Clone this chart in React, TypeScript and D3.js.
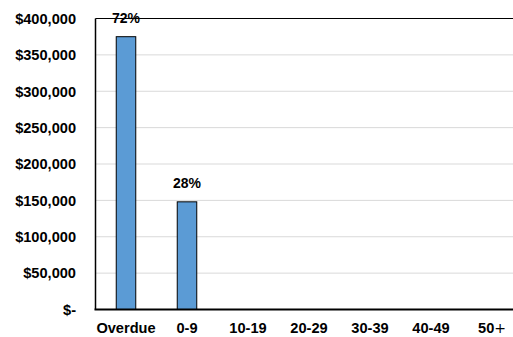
import React from "react";
import * as d3 from "d3";

// Receivables aging buckets and outstanding amounts
const categories: string[] = ["Overdue", "0-9", "10-19", "20-29", "30-39", "40-49", "50+"];
const amounts: number[] = [375000, 148000, 0, 0, 0, 0, 0];
const yTicks: number[] = [0, 50000, 100000, 150000, 200000, 250000, 300000, 350000, 400000];

const W = 513;
const H = 337;
const plot = { left: 95.5, right: 522.5, top: 18.5, bottom: 309.5 };
const FONT = "Liberation Sans, Arial, sans-serif";

const fmtMoney = (v: number) => (v === 0 ? "$-" : "$" + d3.format(",")(v));

// Category label: a trailing "+" is set in a lighter weight
function CategoryLabel({ text, x, y }: { text: string; x: number; y: number }) {
  const plus = text.endsWith("+");
  const body = plus ? text.slice(0, -1) : text;
  return (
    <text x={x} y={y} textAnchor="middle" fontFamily={FONT} fontWeight="bold" fontSize={14.6} fill="#000">
      {body}
      {plus ? (
        <tspan fontWeight="normal" fontFamily="DejaVu Sans, sans-serif" fontSize={14}>
          +
        </tspan>
      ) : null}
    </text>
  );
}

export default function App() {
  const x = d3
    .scaleBand<string>()
    .domain(categories)
    .range([plot.left, plot.right])
    .paddingInner(0.68)
    .paddingOuter(0.34);
  const y = d3.scaleLinear().domain([0, 400000]).range([plot.bottom, plot.top]);
  const total = d3.sum(amounts);

  return (
    <div style={{ position: "fixed", left: 0, top: 0, width: W, height: H, background: "#fff" }}>
      <svg width={W} height={H} style={{ display: "block" }}>
        <rect width={W} height={H} fill="#fff" />
        {/* horizontal gridlines */}
        {yTicks
          .filter((t) => t > 0 && t < 400000)
          .map((t) => (
            <line key={t} x1={plot.left} x2={W} y1={y(t)} y2={y(t)} stroke="#d9d9d9" strokeWidth={1} />
          ))}
        {/* top frame line */}
        <line x1={plot.left} x2={W} y1={y(400000)} y2={y(400000)} stroke="#000" strokeWidth={1.2} />
        {/* y tick labels */}
        {yTicks.map((t) => (
          <text
            key={t}
            x={76}
            y={y(t)}
            dy="0.36em"
            textAnchor="end"
            fontFamily={FONT}
            fontWeight="bold"
            fontSize={14.6}
            fill="#000"
          >
            {fmtMoney(t)}
          </text>
        ))}
        {/* bars */}
        {categories.map((c, i) =>
          amounts[i] > 0 ? (
            <rect
              key={c}
              x={x(c)!}
              y={y(amounts[i])}
              width={x.bandwidth()}
              height={y(0) - y(amounts[i])}
              fill="#5b9bd5"
              stroke="#000"
              strokeWidth={1}
            />
          ) : null
        )}
        {/* share labels */}
        {categories.map((c, i) =>
          amounts[i] > 0 ? (
            <text
              key={c}
              x={x(c)! + x.bandwidth() / 2}
              y={y(amounts[i]) - 14}
              textAnchor="middle"
              fontFamily={FONT}
              fontWeight="bold"
              fontSize={14}
              fill="#000"
            >
              {Math.round((amounts[i] / total) * 100) + "%"}
            </text>
          ) : null
        )}
        {/* axes frame */}
        <line x1={plot.left} x2={plot.left} y1={plot.top} y2={plot.bottom} stroke="#000" strokeWidth={1.5} />
        <line x1={plot.left - 1} x2={W} y1={plot.bottom} y2={plot.bottom} stroke="#000" strokeWidth={2} />
        {/* category labels */}
        {categories.map((c) => (
          <CategoryLabel key={c} text={c} x={x(c)! + x.bandwidth() / 2} y={333} />
        ))}
      </svg>
    </div>
  );
}
